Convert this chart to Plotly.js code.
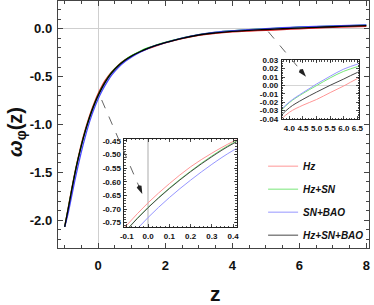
<!DOCTYPE html>
<html><head><meta charset="utf-8">
<script src="https://cdn.plot.ly/plotly-3.0.1.min.js"></script>
<style>html,body{margin:0;padding:0;background:#fff}#chart{width:374px;height:305px}</style>
</head><body><div id="chart"></div>
<script>
// redshift grid
const z = [-1,-0.9,-0.8,-0.7,-0.6,-0.5,-0.4,-0.3,-0.2,-0.1,0,0.1,0.2,0.3,0.4,0.6,0.8,1,1.25,1.5,1.75,2,2.5,3,3.5,4,4.5,5,5.5,6,6.5,7,7.5,8];
// w_phi(z) per data set
const wHz = [-2.07,-1.88,-1.69,-1.51,-1.35,-1.20,-1.07,-0.955,-0.85,-0.759,-0.677,-0.607,-0.545,-0.495,-0.452,-0.38,-0.325,-0.282,-0.24,-0.205,-0.176,-0.148,-0.104,-0.07,-0.047,-0.032,-0.0235,-0.0167,-0.0085,-0.0006,0.0082,0.015,0.021,0.026];
const wHzSN = [-2.07,-1.89,-1.70,-1.52,-1.36,-1.215,-1.085,-0.97,-0.866,-0.775,-0.694,-0.623,-0.561,-0.505,-0.457,-0.383,-0.326,-0.281,-0.235,-0.198,-0.167,-0.141,-0.097,-0.061,-0.037,-0.0205,-0.0095,-0.0002,0.009,0.0169,0.0224,0.028,0.033,0.037];
const wSNBAO = [-2.07,-1.93,-1.76,-1.59,-1.43,-1.28,-1.145,-1.02,-0.91,-0.815,-0.731,-0.658,-0.594,-0.536,-0.485,-0.405,-0.343,-0.294,-0.244,-0.204,-0.172,-0.145,-0.098,-0.061,-0.036,-0.0197,-0.0085,0.0017,0.011,0.0195,0.0254,0.031,0.036,0.041];
const wAll = [-2.07,-1.89,-1.70,-1.52,-1.36,-1.215,-1.085,-0.97,-0.867,-0.776,-0.695,-0.625,-0.563,-0.508,-0.46,-0.386,-0.329,-0.284,-0.24,-0.203,-0.172,-0.146,-0.1,-0.065,-0.043,-0.0266,-0.0165,-0.0079,0.0002,0.0077,0.0155,0.021,0.027,0.032];
const seriesNames = ['Hz','Hz+SN','SN+BAO','Hz+SN+BAO'];

// tick labels
const mainXTicks = [0,2,4,6,8];
const mainYTicks = [-2.0,-1.5,-1.0,-0.5,0.0];
const mainYText = ['-2.0','-1.5','-1.0','-0.5','0.0'];
const lowXTicks = [-0.1,0,0.1,0.2,0.3,0.4];
const lowXText = ['-0.1','0.0','0.1','0.2','0.3','0.4'];
const lowYTicks = [-0.75,-0.70,-0.65,-0.60,-0.55,-0.50,-0.45];
const lowYText = ['-0.75','-0.70','-0.65','-0.60','-0.55','-0.50','-0.45'];
const upXTicks = [4.0,4.5,5.0,5.5,6.0,6.5];
const upXText = ['4.0','4.5','5.0','5.5','6.0','6.5'];
const upYTicks = [-0.04,-0.03,-0.02,-0.01,0,0.01,0.02,0.03];
const upYText = ['-0.04','-0.03','-0.02','-0.01','0.00','0.01','0.02','0.03'];

const series = [wHz, wHzSN, wSNBAO, wAll];
const mainColors = ['rgb(225,30,30)','rgb(20,190,20)','rgb(70,70,255)','rgb(0,0,0)'];
const insetColors = ['rgb(255,150,150)','rgb(120,230,120)','rgb(150,150,255)','rgb(70,70,70)'];

const traces = [];
series.forEach((w,i)=>{
  traces.push({x:z,y:w,xaxis:'x',yaxis:'y',mode:'lines',name:seriesNames[i],showlegend:false,
    line:{color:mainColors[i],width:1.3,shape:'spline',smoothing:1},hoverinfo:'skip'});
});
series.forEach((w,i)=>{
  traces.push({x:z,y:w,xaxis:'x2',yaxis:'y2',mode:'lines',name:seriesNames[i],showlegend:false,
    line:{color:insetColors[i],width:1,shape:'spline',smoothing:1},hoverinfo:'skip'});
});
series.forEach((w,i)=>{
  traces.push({x:z,y:w,xaxis:'x3',yaxis:'y3',mode:'lines',name:seriesNames[i],showlegend:true,legendgroup:'g'+i,
    line:{color:insetColors[i],width:1,shape:'spline',smoothing:1},hoverinfo:'skip'});
});

const F = 'Liberation Sans, Arial, sans-serif';
const FN = 'Liberation Sans Narrow, Liberation Sans, Arial, sans-serif';
const tickFontMain = {family:F,size:13,weight:'bold',color:'#111'};
const tickFontInset = {family:FN,size:8,weight:'bold',color:'#111'};

function mainAx(extra){
  return Object.assign({showline:true,linecolor:'#444',linewidth:1.2,mirror:'ticks',ticks:'inside',
    ticklen:5,tickwidth:1,tickcolor:'#444',showgrid:false,zeroline:true,zerolinecolor:'#cfcfcf',zerolinewidth:1.2,
    tickfont:tickFontMain,tickangle:0},extra);
}
function insetAx(extra){
  return Object.assign({showline:true,linecolor:'#222',linewidth:1,mirror:'ticks',ticks:'inside',
    ticklen:3,tickwidth:0.8,tickcolor:'#222',showgrid:false,zeroline:true,zerolinecolor:'#d5d5d5',zerolinewidth:1.2,
    tickfont:tickFontInset,ticklabelstandoff:1,tickangle:0,automargin:false},extra);
}

// decorative arrowheads, pixel geometry converted to main-axis data units
const X0 = -1.2, X1 = 8.08, Y0 = -2.29, Y1 = 0.29, PL = 58, PR = 369, PT = 1, PB = 248;
function toData(px,py){
  return [X0 + (px-PL)/(PR-PL)*(X1-X0), Y1 - (py-PT)/(PB-PT)*(Y1-Y0)];
}
function head(tipx,tipy,ux,uy,len,half){
  const bx = tipx-ux*len, by = tipy-uy*len;
  const nx = -uy, ny = ux;
  const p = [toData(tipx,tipy),toData(bx+nx*half,by+ny*half),toData(bx-ux*1.5,by-uy*1.5),toData(bx-nx*half,by-ny*half)];
  return 'M'+p.map(q=>q[0].toFixed(4)+','+q[1].toFixed(4)).join(' L')+' Z';
}
function dashLine(sx,sy,ex,ey){
  const a = toData(sx,sy), b = toData(ex,ey);
  return {type:'line',xref:'x',yref:'y',x0:a[0],y0:a[1],x1:b[0],y1:b[1],layer:'above',line:{color:'#666',width:1,dash:'dash'}};
}
const u1 = [0.397,0.918], u2 = [0.642,0.766];

const layout = {
  width:374,height:305,
  margin:{l:58,r:5,t:1,b:57},
  paper_bgcolor:'#fff',plot_bgcolor:'rgba(0,0,0,0)',
  showlegend:true,
  xaxis: mainAx({range:[X0,X1],domain:[0,1],anchor:'y',tickvals:mainXTicks,
    minor:{dtick:0.5,tick0:0,ticks:'inside',ticklen:3,tickcolor:'#444'},ticklabelstandoff:5}),
  yaxis: mainAx({range:[Y0,Y1],domain:[0,1],anchor:'x',tickvals:mainYTicks,ticktext:mainYText,
    minor:{dtick:0.1,tick0:0,ticks:'inside',ticklen:3,tickcolor:'#444'},ticklabelstandoff:2}),
  xaxis2: insetAx({range:[-0.111,0.416],domain:[0.2138,0.574],anchor:'y2',tickvals:lowXTicks,ticktext:lowXText,
    minor:{dtick:0.02,tick0:0,ticks:'inside',ticklen:1.5,tickcolor:'#222'}}),
  yaxis2: insetAx({range:[-0.767,-0.443],domain:[0.0838,0.4413],anchor:'x2',tickvals:lowYTicks,ticktext:lowYText,
    minor:{dtick:0.01,tick0:0,ticks:'inside',ticklen:1.5,tickcolor:'#222'}}),
  xaxis3: insetAx({range:[3.72,6.57],domain:[0.7193,0.9688],anchor:'y3',tickvals:upXTicks,ticktext:upXText,
    minor:{dtick:0.1,tick0:0,ticks:'inside',ticklen:1.5,tickcolor:'#222'}}),
  yaxis3: insetAx({range:[-0.0403,0.0303],domain:[0.521,0.7611],anchor:'x3',tickvals:upYTicks,ticktext:upYText,
    minor:{dtick:0.002,tick0:0,ticks:'inside',ticklen:1.5,tickcolor:'#222'}}),
  legend:{x:0.6595,y:0.39,xanchor:'left',yanchor:'top',bgcolor:'rgba(0,0,0,0)',borderwidth:0,
    font:{family:F,size:10,style:'italic',weight:'bold',color:'#111'},itemwidth:30,tracegroupgap:4},
  shapes:[
    dashLine(101.7,100,139.1,186.7),
    {type:'path',xref:'x',yref:'y',path:head(142.3,194,u1[0],u1[1],8,2.6),layer:'above',fillcolor:'#222',line:{width:0}},
    dashLine(268.3,31.7,300.9,70.6),
    {type:'path',xref:'x',yref:'y',path:head(306,76.7,u2[0],u2[1],8,2.6),layer:'above',fillcolor:'#222',line:{width:0}}
  ],
  annotations:[
    {xref:'paper',yref:'paper',x:-0.135,y:0.4696,xanchor:'center',yanchor:'middle',textangle:-90,showarrow:false,
      text:'<b><i>ω</i><sub>φ</sub>(z)</b>',font:{family:F,size:20,color:'#111'}},
    {xref:'paper',yref:'paper',x:0.508,y:-0.184,xanchor:'center',yanchor:'middle',showarrow:false,
      text:'<b>z</b>',font:{family:F,size:21,color:'#111'}}
  ]
};

Plotly.newPlot('chart',traces,layout,{staticPlot:true,displayModeBar:false});
</script>
</body></html>
